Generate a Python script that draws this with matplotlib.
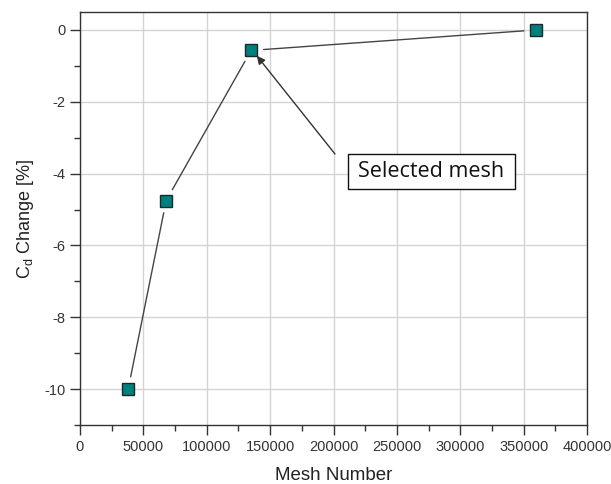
import matplotlib
matplotlib.use("Agg")
import matplotlib.pyplot as plt
from matplotlib.ticker import MultipleLocator
from matplotlib.patches import Rectangle

mesh_number = [38000, 68000, 135000, 360000]
cd_change = [-10.0, -4.75, -0.57, 0.0]
x_ticks = [0, 50000, 100000, 150000, 200000, 250000, 300000, 350000, 400000]
y_ticks = [0, -2, -4, -6, -8, -10]
annot_text = "Selected mesh"
selected_idx = 2

plt.rcParams['font.family'] = ['Liberation Sans', 'DejaVu Sans']
plt.rcParams['mathtext.fontset'] = 'custom'
plt.rcParams['mathtext.rm'] = 'Liberation Sans'
plt.rcParams['mathtext.it'] = 'Liberation Sans'
plt.rcParams['axes.unicode_minus'] = False

W, H = 611, 484
fig = plt.figure(figsize=(W/100, H/100), dpi=100)
ax = fig.add_axes([80/W, 1-425/H, (587-80)/W, (425-12)/H])

ax.set_xlim(0, 400000)
ax.set_ylim(-11, 0.5)
ax.set_xticks(x_ticks)
ax.set_yticks(y_ticks)
ax.xaxis.set_minor_locator(MultipleLocator(25000))
ax.yaxis.set_minor_locator(MultipleLocator(1))
ax.grid(True, which='major', color='#d4d4d4', linewidth=1.0)
ax.set_axisbelow(True)

for s in ax.spines.values():
    s.set_color('#333333')
    s.set_linewidth(1.0)

ax.tick_params(axis='both', which='major', direction='out', length=7, width=1,
               color='#333333', labelsize=10.5, labelcolor='#333333')
ax.tick_params(axis='both', which='minor', direction='out', length=4, width=1,
               color='#333333')

# connecting lines with gaps near markers
for i in range(len(mesh_number) - 1):
    ax.annotate('', xy=(mesh_number[i+1], cd_change[i+1]),
                xytext=(mesh_number[i], cd_change[i]),
                arrowprops=dict(arrowstyle='-', color='#444444', lw=1.0,
                                shrinkA=9, shrinkB=9))

ax.plot(mesh_number, cd_change, linestyle='none', marker='s', markersize=8.5,
        markerfacecolor='#007f7f', markeredgecolor='#1a2a2a', markeredgewidth=1.0,
        zorder=5)

# arrow pointing to the selected mesh
ax.annotate('', xy=(mesh_number[selected_idx] + 4500, cd_change[selected_idx] - 0.15),
            xytext=(335/W, 1-154/H), textcoords='figure fraction',
            arrowprops=dict(arrowstyle='-|>', color='#333333', lw=1.0,
                            mutation_scale=12, shrinkA=0, shrinkB=0))

fig.patches.append(Rectangle((348/W, 1-189/H), 167/W, 35/H, transform=fig.transFigure,
                             fc='white', ec='#111111', lw=1.0, zorder=3))
fig.text(431/W, 1-171.5/H, annot_text, fontsize=15.5,
         family=['Open Sans', 'DejaVu Sans'], color='#111111',
         ha='center', va='center', zorder=4)

ax.set_xlabel('Mesh Number', fontsize=13.5, color='#222222', labelpad=10)
ax.set_ylabel(r'C$_\mathrm{d}$ Change [%]', fontsize=13, color='#222222', labelpad=6)

fig.savefig('out.png', dpi=100)
